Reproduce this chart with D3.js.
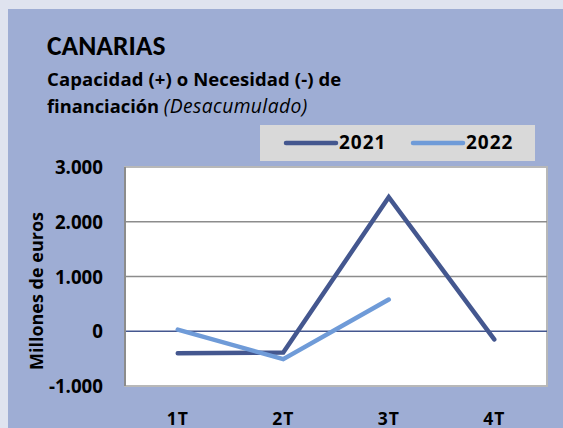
<!DOCTYPE html>
<html><head><meta charset="utf-8">
<script src="https://cdn.jsdelivr.net/npm/d3@7"></script>
<style>body{margin:0;background:#dfe3ef}svg{display:block}</style>
</head><body><svg id="c" width="563" height="428"></svg>
<script>
const categories = ["1T","2T","3T","4T"];
const seriesNames = ["2021","2022"];
const values2021 = [-400,-390,2450,-150];
const values2022 = [30,-510,580];
const yTicks = [-1000,0,1000,2000,3000];
const yTickLabels = ["-1.000","0","1.000","2.000","3.000"];
const colors = ["#44578f","#6f9bd8"];
const OS = "'Open Sans',sans-serif";

const svg = d3.select("#c");
svg.append("rect").attr("x",0).attr("y",0).attr("width",563).attr("height",428).attr("fill","#dfe3ef");
svg.append("rect").attr("x",8).attr("y",9).attr("width",555).attr("height",419).attr("fill","#9eadd4");

const L=125,R=547,T=167,B=386;
const x = d3.scaleBand().domain(categories).range([L,R]);
const y = d3.scaleLinear().domain([-1000,3000]).range([B,T]);

svg.append("rect").attr("x",L).attr("y",T).attr("width",R-L).attr("height",B-T)
  .attr("fill","#fff").attr("stroke","#b8b8b8").attr("stroke-width",2);

// gridlines
svg.append("g").selectAll("line").data(yTicks.filter(d=>d!==0 && d!==-1000 && d!==3000)).join("line")
  .attr("x1",L).attr("x2",R).attr("y1",d=>y(d)).attr("y2",d=>y(d))
  .attr("stroke","#8c8c8c").attr("stroke-width",1.3);
svg.append("line").attr("x1",L).attr("x2",R).attr("y1",y(0)).attr("y2",y(0))
  .attr("stroke","#44578f").attr("stroke-width",1.3);
svg.append("line").attr("x1",L).attr("x2",L).attr("y1",T).attr("y2",B)
  .attr("stroke","#8c8c8c").attr("stroke-width",2);

// y axis
const yAxis = d3.axisLeft(y).tickValues(yTicks).tickFormat((d,i)=>yTickLabels[i]).tickSize(0).tickPadding(0);
const ga = svg.append("g").attr("transform",`translate(${103},0)`).call(yAxis);
ga.select(".domain").remove();
ga.selectAll("text").attr("fill","#000").attr("dy","0.36em")
  .style("font-family",OS).style("font-size","18.7px").style("font-weight","bold");

// x axis
const xAxis = d3.axisBottom(x).tickSize(0).tickPadding(0);
const gx = svg.append("g").attr("transform",`translate(0,${424.5})`).call(xAxis);
gx.select(".domain").remove();
gx.selectAll("text").attr("fill","#000").attr("y",0).attr("dy",0).attr("letter-spacing",1)
  .style("font-family",OS).style("font-size","17.5px").style("font-weight","bold");

// y title
svg.append("text").attr("transform",`translate(43,291) rotate(-90)`).attr("text-anchor","middle")
  .style("font-family",OS).style("font-size","18px").style("font-weight","bold").text("Millones de euros");

// lines
const line = d3.line().x((d,i)=>x(categories[i])+x.bandwidth()/2).y(d=>y(d));
[values2021,values2022].forEach((v,k)=>{
  svg.append("path").datum(v).attr("d",line).attr("fill","none")
    .attr("stroke",colors[k]).attr("stroke-width",4.5).attr("stroke-linecap","round").attr("stroke-linejoin","miter");
});

// titles
svg.append("text").attr("x",47).attr("y",55)
  .style("font-family","Carlito,Calibri,sans-serif").style("font-size","27.5px").style("font-weight","bold").text("CANARIAS");
svg.append("text").attr("x",47).attr("y",86)
  .style("font-family",OS).style("font-size","18.5px").style("font-weight","bold").attr("letter-spacing",0.1)
  .text("Capacidad (+) o Necesidad (-) de");
const t2 = svg.append("text").attr("x",47).attr("y",112.5).style("font-family",OS).style("font-size","18.3px");
t2.append("tspan").style("font-weight","bold").text("financiación ");
t2.append("tspan").style("font-style","italic").style("font-size","19.3px").attr("letter-spacing",0.4).text("(Desacumulado)");

// legend
svg.append("rect").attr("x",260).attr("y",125).attr("width",275).attr("height",36).attr("fill","#d9d9d9");
const lx=[286,413];
seriesNames.forEach((n,k)=>{
  svg.append("line").attr("x1",lx[k]).attr("x2",lx[k]+50).attr("y1",143).attr("y2",143)
    .attr("stroke",colors[k]).attr("stroke-width",4.5).attr("stroke-linecap","round");
  svg.append("text").attr("x",lx[k]+53).attr("y",149.3).attr("letter-spacing",1)
    .style("font-family",OS).style("font-size","19px").style("font-weight","bold").text(n);
});
</script></body></html>
